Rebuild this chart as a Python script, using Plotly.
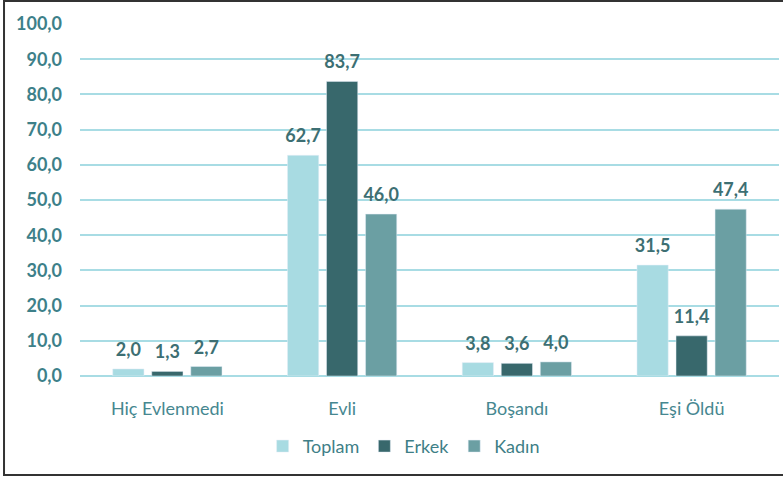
import plotly.graph_objects as go

categories = ["Hiç Evlenmedi", "Evli", "Boşandı", "Eşi Öldü"]
toplam = [2.0, 62.7, 3.8, 31.5]
erkek = [1.3, 83.7, 3.6, 11.4]
kadin = [2.7, 46.0, 4.0, 47.4]
series_names = ["Toplam", "Erkek", "Kadın"]
colors = ["#a8dbe2", "#38686c", "#6b9fa3"]

fig = go.Figure()
for i, (name, vals, col) in enumerate(zip(series_names, [toplam, erkek, kadin], colors)):
    fig.add_trace(go.Bar(
        x=categories, y=vals, name=name, marker_color=col,
        offsetgroup=str(i), hoverinfo="skip",
    ))
for i, (name, vals) in enumerate(zip(series_names, [toplam, erkek, kadin])):
    fig.add_trace(go.Scatter(
        x=categories, y=vals, mode="markers+text", offsetgroup=str(i),
        marker=dict(size=12, opacity=0), showlegend=False, hoverinfo="skip",
        texttemplate="%{y:.1f}", textposition="top center",
        textfont=dict(family="Lato", size=18, color="#3d6f73", weight="bold"),
        cliponaxis=False,
    ))

fig.update_layout(
    width=783, height=478,
    margin=dict(l=80, r=4, t=24, b=102),
    paper_bgcolor="white", plot_bgcolor="white",
    separators=",.",
    barmode="group", bargap=0.33, bargroupgap=0.2,
    scattermode="group", scattergap=0.33,
    font=dict(family="Lato", size=18, color="#3f8089"),
    showlegend=True,
    legend=dict(orientation="h", x=0.463, xanchor="center", y=-0.2, yanchor="middle",
                font=dict(size=18, color="#3f7f87"), itemwidth=30, traceorder="normal"),
    xaxis=dict(showgrid=False, showline=False, ticks="", ticklabelstandoff=20,
               tickfont=dict(size=18, color="#468790")),
    yaxis=dict(range=[0, 100], dtick=10, tickformat=".1f", showgrid=True,
               gridcolor="#a8dce4", gridwidth=1.5, zeroline=True,
               zerolinecolor="#a8dce4", zerolinewidth=1.5, showline=False,
               ticklabelstandoff=17,
               tickfont=dict(size=18, color="#3d8089", weight="bold")),
)

fig.add_shape(type="rect", xref="paper", yref="paper",
              x0=-0.1087, x1=1.03, y0=-0.281, y1=1.065,
              line=dict(color="#333333", width=2), layer="above")

fig.write_html("out.html", config={"displayModeBar": False},
               post_script="document.body.style.margin='0';")
